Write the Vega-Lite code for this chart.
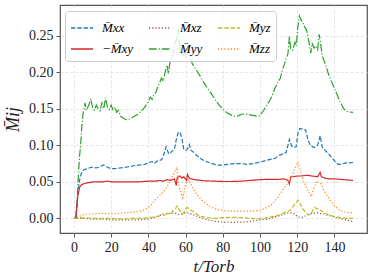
{
  "$schema": "https://vega.github.io/schema/vega-lite/v6.json",
  "width": 307,
  "height": 228,
  "autosize": {"type": "none"},
  "padding": {"left": 60, "top": 5, "right": 7, "bottom": 47},
  "background": "white",
  "config": {
    "view": {"stroke": "#555555", "strokeWidth": 1.2},
    "font": "Liberation Serif",
    "axis": {
      "labelFont": "Liberation Serif",
      "titleFont": "Liberation Serif",
      "labelColor": "#222222",
      "titleColor": "#222222",
      "domain": false,
      "tickColor": "#555555",
      "tickSize": 4,
      "tickWidth": 1,
      "grid": true,
      "gridColor": "#dedede",
      "gridDash": [3, 2],
      "gridWidth": 0.8
    }
  },
  "data": {
    "values": [
      {"s":"M\u0304yy","t":0,"v":0},{"s":"M\u0304yy","t":1,"v":0},{"s":"M\u0304yy","t":1.5,"v":0.01},{"s":"M\u0304yy","t":2.2,"v":0.05},{"s":"M\u0304yy","t":3,"v":0.085},{"s":"M\u0304yy","t":3.6,"v":0.1},{"s":"M\u0304yy","t":4.2,"v":0.125},{"s":"M\u0304yy","t":5,"v":0.145},{"s":"M\u0304yy","t":5.5,"v":0.15},{"s":"M\u0304yy","t":6,"v":0.158},{"s":"M\u0304yy","t":6.5,"v":0.148},{"s":"M\u0304yy","t":7,"v":0.15},{"s":"M\u0304yy","t":8,"v":0.155},{"s":"M\u0304yy","t":9,"v":0.164},{"s":"M\u0304yy","t":10,"v":0.152},{"s":"M\u0304yy","t":11,"v":0.148},{"s":"M\u0304yy","t":12,"v":0.155},{"s":"M\u0304yy","t":13,"v":0.15},{"s":"M\u0304yy","t":14,"v":0.147},{"s":"M\u0304yy","t":15,"v":0.158},{"s":"M\u0304yy","t":16,"v":0.15},{"s":"M\u0304yy","t":17,"v":0.165},{"s":"M\u0304yy","t":18,"v":0.152},{"s":"M\u0304yy","t":19,"v":0.149},{"s":"M\u0304yy","t":20,"v":0.155},{"s":"M\u0304yy","t":21,"v":0.148},{"s":"M\u0304yy","t":22,"v":0.152},{"s":"M\u0304yy","t":23,"v":0.145},{"s":"M\u0304yy","t":24,"v":0.148},{"s":"M\u0304yy","t":25,"v":0.14},{"s":"M\u0304yy","t":26,"v":0.138},{"s":"M\u0304yy","t":28,"v":0.135},{"s":"M\u0304yy","t":30,"v":0.136},{"s":"M\u0304yy","t":32,"v":0.139},{"s":"M\u0304yy","t":34,"v":0.142},{"s":"M\u0304yy","t":36,"v":0.146},{"s":"M\u0304yy","t":38,"v":0.152},{"s":"M\u0304yy","t":40,"v":0.16},{"s":"M\u0304yy","t":41,"v":0.166},{"s":"M\u0304yy","t":42,"v":0.163},{"s":"M\u0304yy","t":43,"v":0.17},{"s":"M\u0304yy","t":44,"v":0.172},{"s":"M\u0304yy","t":45,"v":0.18},{"s":"M\u0304yy","t":46,"v":0.185},{"s":"M\u0304yy","t":47,"v":0.192},{"s":"M\u0304yy","t":48,"v":0.188},{"s":"M\u0304yy","t":49,"v":0.2},{"s":"M\u0304yy","t":50,"v":0.21},{"s":"M\u0304yy","t":50.8,"v":0.198},{"s":"M\u0304yy","t":51.5,"v":0.212},{"s":"M\u0304yy","t":52.5,"v":0.22},{"s":"M\u0304yy","t":53.5,"v":0.228},{"s":"M\u0304yy","t":54.5,"v":0.24},{"s":"M\u0304yy","t":55.5,"v":0.25},{"s":"M\u0304yy","t":56,"v":0.259},{"s":"M\u0304yy","t":56.6,"v":0.24},{"s":"M\u0304yy","t":57.2,"v":0.226},{"s":"M\u0304yy","t":58,"v":0.235},{"s":"M\u0304yy","t":58.8,"v":0.222},{"s":"M\u0304yy","t":59.5,"v":0.23},{"s":"M\u0304yy","t":60.5,"v":0.22},{"s":"M\u0304yy","t":61.3,"v":0.232},{"s":"M\u0304yy","t":62.3,"v":0.222},{"s":"M\u0304yy","t":63,"v":0.215},{"s":"M\u0304yy","t":64,"v":0.21},{"s":"M\u0304yy","t":66,"v":0.202},{"s":"M\u0304yy","t":68,"v":0.194},{"s":"M\u0304yy","t":70,"v":0.185},{"s":"M\u0304yy","t":72,"v":0.177},{"s":"M\u0304yy","t":74,"v":0.17},{"s":"M\u0304yy","t":76,"v":0.162},{"s":"M\u0304yy","t":78,"v":0.155},{"s":"M\u0304yy","t":80,"v":0.15},{"s":"M\u0304yy","t":82,"v":0.145},{"s":"M\u0304yy","t":84,"v":0.142},{"s":"M\u0304yy","t":86,"v":0.14},{"s":"M\u0304yy","t":88,"v":0.14},{"s":"M\u0304yy","t":90,"v":0.1425},{"s":"M\u0304yy","t":92,"v":0.143},{"s":"M\u0304yy","t":94,"v":0.142},{"s":"M\u0304yy","t":96,"v":0.141},{"s":"M\u0304yy","t":98,"v":0.14},{"s":"M\u0304yy","t":100,"v":0.141},{"s":"M\u0304yy","t":102,"v":0.148},{"s":"M\u0304yy","t":104,"v":0.156},{"s":"M\u0304yy","t":106,"v":0.165},{"s":"M\u0304yy","t":108,"v":0.178},{"s":"M\u0304yy","t":110,"v":0.188},{"s":"M\u0304yy","t":111,"v":0.192},{"s":"M\u0304yy","t":112,"v":0.203},{"s":"M\u0304yy","t":113,"v":0.21},{"s":"M\u0304yy","t":114,"v":0.218},{"s":"M\u0304yy","t":115,"v":0.225},{"s":"M\u0304yy","t":115.8,"v":0.249},{"s":"M\u0304yy","t":116.5,"v":0.232},{"s":"M\u0304yy","t":117.5,"v":0.23},{"s":"M\u0304yy","t":118.8,"v":0.241},{"s":"M\u0304yy","t":119.5,"v":0.236},{"s":"M\u0304yy","t":120.3,"v":0.262},{"s":"M\u0304yy","t":121.2,"v":0.277},{"s":"M\u0304yy","t":122,"v":0.272},{"s":"M\u0304yy","t":123,"v":0.268},{"s":"M\u0304yy","t":124,"v":0.262},{"s":"M\u0304yy","t":125,"v":0.258},{"s":"M\u0304yy","t":125.7,"v":0.25},{"s":"M\u0304yy","t":126.5,"v":0.238},{"s":"M\u0304yy","t":127.3,"v":0.226},{"s":"M\u0304yy","t":128,"v":0.24},{"s":"M\u0304yy","t":129,"v":0.233},{"s":"M\u0304yy","t":130,"v":0.236},{"s":"M\u0304yy","t":131,"v":0.231},{"s":"M\u0304yy","t":131.8,"v":0.252},{"s":"M\u0304yy","t":132.5,"v":0.24},{"s":"M\u0304yy","t":133.5,"v":0.222},{"s":"M\u0304yy","t":135,"v":0.212},{"s":"M\u0304yy","t":136.5,"v":0.2},{"s":"M\u0304yy","t":138,"v":0.19},{"s":"M\u0304yy","t":140,"v":0.178},{"s":"M\u0304yy","t":141.8,"v":0.167},{"s":"M\u0304yy","t":143,"v":0.16},{"s":"M\u0304yy","t":145,"v":0.15},{"s":"M\u0304yy","t":147,"v":0.146},{"s":"M\u0304yy","t":150,"v":0.145},

      {"s":"M\u0304xx","t":0,"v":0},{"s":"M\u0304xx","t":1,"v":0},{"s":"M\u0304xx","t":2,"v":0.03},{"s":"M\u0304xx","t":3,"v":0.052},{"s":"M\u0304xx","t":4,"v":0.062},{"s":"M\u0304xx","t":5,"v":0.066},{"s":"M\u0304xx","t":6,"v":0.067},{"s":"M\u0304xx","t":8,"v":0.069},{"s":"M\u0304xx","t":10,"v":0.07},{"s":"M\u0304xx","t":12,"v":0.069},{"s":"M\u0304xx","t":14,"v":0.071},{"s":"M\u0304xx","t":16,"v":0.073},{"s":"M\u0304xx","t":18,"v":0.07},{"s":"M\u0304xx","t":20,"v":0.068},{"s":"M\u0304xx","t":22,"v":0.068},{"s":"M\u0304xx","t":25,"v":0.069},{"s":"M\u0304xx","t":28,"v":0.07},{"s":"M\u0304xx","t":30,"v":0.071},{"s":"M\u0304xx","t":32,"v":0.072},{"s":"M\u0304xx","t":35,"v":0.073},{"s":"M\u0304xx","t":38,"v":0.074},{"s":"M\u0304xx","t":40,"v":0.076},{"s":"M\u0304xx","t":42,"v":0.078},{"s":"M\u0304xx","t":43,"v":0.075},{"s":"M\u0304xx","t":45,"v":0.079},{"s":"M\u0304xx","t":47,"v":0.08},{"s":"M\u0304xx","t":48,"v":0.085},{"s":"M\u0304xx","t":49.5,"v":0.098},{"s":"M\u0304xx","t":51,"v":0.088},{"s":"M\u0304xx","t":52,"v":0.09},{"s":"M\u0304xx","t":54,"v":0.095},{"s":"M\u0304xx","t":55,"v":0.108},{"s":"M\u0304xx","t":56,"v":0.117},{"s":"M\u0304xx","t":57,"v":0.118},{"s":"M\u0304xx","t":58,"v":0.11},{"s":"M\u0304xx","t":59,"v":0.095},{"s":"M\u0304xx","t":60,"v":0.093},{"s":"M\u0304xx","t":61,"v":0.095},{"s":"M\u0304xx","t":62,"v":0.101},{"s":"M\u0304xx","t":63,"v":0.093},{"s":"M\u0304xx","t":64.5,"v":0.09},{"s":"M\u0304xx","t":66,"v":0.086},{"s":"M\u0304xx","t":68,"v":0.082},{"s":"M\u0304xx","t":70,"v":0.079},{"s":"M\u0304xx","t":73,"v":0.076},{"s":"M\u0304xx","t":77,"v":0.073},{"s":"M\u0304xx","t":80,"v":0.073},{"s":"M\u0304xx","t":83,"v":0.074},{"s":"M\u0304xx","t":86,"v":0.075},{"s":"M\u0304xx","t":90,"v":0.075},{"s":"M\u0304xx","t":93,"v":0.074},{"s":"M\u0304xx","t":96,"v":0.075},{"s":"M\u0304xx","t":100,"v":0.077},{"s":"M\u0304xx","t":103,"v":0.079},{"s":"M\u0304xx","t":106,"v":0.081},{"s":"M\u0304xx","t":108,"v":0.082},{"s":"M\u0304xx","t":110,"v":0.086},{"s":"M\u0304xx","t":112,"v":0.088},{"s":"M\u0304xx","t":114,"v":0.09},{"s":"M\u0304xx","t":115,"v":0.1},{"s":"M\u0304xx","t":115.8,"v":0.108},{"s":"M\u0304xx","t":117,"v":0.099},{"s":"M\u0304xx","t":118,"v":0.097},{"s":"M\u0304xx","t":119.4,"v":0.098},{"s":"M\u0304xx","t":120.5,"v":0.118},{"s":"M\u0304xx","t":121.5,"v":0.123},{"s":"M\u0304xx","t":123,"v":0.122},{"s":"M\u0304xx","t":124.5,"v":0.121},{"s":"M\u0304xx","t":125.7,"v":0.108},{"s":"M\u0304xx","t":127,"v":0.1},{"s":"M\u0304xx","t":129,"v":0.097},{"s":"M\u0304xx","t":131,"v":0.1},{"s":"M\u0304xx","t":132.3,"v":0.113},{"s":"M\u0304xx","t":133.5,"v":0.097},{"s":"M\u0304xx","t":135,"v":0.093},{"s":"M\u0304xx","t":137,"v":0.088},{"s":"M\u0304xx","t":139,"v":0.082},{"s":"M\u0304xx","t":141,"v":0.076},{"s":"M\u0304xx","t":142,"v":0.074},{"s":"M\u0304xx","t":144,"v":0.074},{"s":"M\u0304xx","t":146,"v":0.076},{"s":"M\u0304xx","t":148,"v":0.076},{"s":"M\u0304xx","t":150,"v":0.0765},

      {"s":"\u2212M\u0304xy","t":0,"v":0},{"s":"\u2212M\u0304xy","t":1,"v":0.001},{"s":"\u2212M\u0304xy","t":2,"v":0.03},{"s":"\u2212M\u0304xy","t":3,"v":0.042},{"s":"\u2212M\u0304xy","t":4,"v":0.046},{"s":"\u2212M\u0304xy","t":6,"v":0.048},{"s":"\u2212M\u0304xy","t":8,"v":0.049},{"s":"\u2212M\u0304xy","t":10,"v":0.05},{"s":"\u2212M\u0304xy","t":15,"v":0.05},{"s":"\u2212M\u0304xy","t":18,"v":0.051},{"s":"\u2212M\u0304xy","t":20,"v":0.05},{"s":"\u2212M\u0304xy","t":25,"v":0.05},{"s":"\u2212M\u0304xy","t":30,"v":0.05},{"s":"\u2212M\u0304xy","t":35,"v":0.05},{"s":"\u2212M\u0304xy","t":40,"v":0.051},{"s":"\u2212M\u0304xy","t":44,"v":0.051},{"s":"\u2212M\u0304xy","t":46,"v":0.052},{"s":"\u2212M\u0304xy","t":48,"v":0.051},{"s":"\u2212M\u0304xy","t":50,"v":0.053},{"s":"\u2212M\u0304xy","t":52,"v":0.052},{"s":"\u2212M\u0304xy","t":54,"v":0.054},{"s":"\u2212M\u0304xy","t":55,"v":0.045},{"s":"\u2212M\u0304xy","t":55.5,"v":0.056},{"s":"\u2212M\u0304xy","t":57,"v":0.058},{"s":"\u2212M\u0304xy","t":58,"v":0.055},{"s":"\u2212M\u0304xy","t":59,"v":0.057},{"s":"\u2212M\u0304xy","t":60.5,"v":0.052},{"s":"\u2212M\u0304xy","t":61,"v":0.06},{"s":"\u2212M\u0304xy","t":62,"v":0.055},{"s":"\u2212M\u0304xy","t":63,"v":0.054},{"s":"\u2212M\u0304xy","t":65,"v":0.053},{"s":"\u2212M\u0304xy","t":68,"v":0.052},{"s":"\u2212M\u0304xy","t":70,"v":0.0515},{"s":"\u2212M\u0304xy","t":75,"v":0.051},{"s":"\u2212M\u0304xy","t":80,"v":0.0505},{"s":"\u2212M\u0304xy","t":85,"v":0.0505},{"s":"\u2212M\u0304xy","t":90,"v":0.051},{"s":"\u2212M\u0304xy","t":95,"v":0.052},{"s":"\u2212M\u0304xy","t":100,"v":0.053},{"s":"\u2212M\u0304xy","t":105,"v":0.0535},{"s":"\u2212M\u0304xy","t":110,"v":0.0535},{"s":"\u2212M\u0304xy","t":113,"v":0.054},{"s":"\u2212M\u0304xy","t":115,"v":0.052},{"s":"\u2212M\u0304xy","t":115.8,"v":0.047},{"s":"\u2212M\u0304xy","t":116.5,"v":0.057},{"s":"\u2212M\u0304xy","t":118,"v":0.057},{"s":"\u2212M\u0304xy","t":120,"v":0.058},{"s":"\u2212M\u0304xy","t":122,"v":0.058},{"s":"\u2212M\u0304xy","t":125,"v":0.059},{"s":"\u2212M\u0304xy","t":128,"v":0.058},{"s":"\u2212M\u0304xy","t":131,"v":0.057},{"s":"\u2212M\u0304xy","t":132.3,"v":0.063},{"s":"\u2212M\u0304xy","t":133,"v":0.057},{"s":"\u2212M\u0304xy","t":135,"v":0.055},{"s":"\u2212M\u0304xy","t":137,"v":0.054},{"s":"\u2212M\u0304xy","t":140,"v":0.054},{"s":"\u2212M\u0304xy","t":145,"v":0.053},{"s":"\u2212M\u0304xy","t":150,"v":0.052},

      {"s":"M\u0304zz","t":0,"v":0},{"s":"M\u0304zz","t":1,"v":0},{"s":"M\u0304zz","t":2,"v":0.002},{"s":"M\u0304zz","t":3,"v":0.003},{"s":"M\u0304zz","t":4,"v":0.004},{"s":"M\u0304zz","t":6,"v":0.006},{"s":"M\u0304zz","t":10,"v":0.006},{"s":"M\u0304zz","t":15,"v":0.007},{"s":"M\u0304zz","t":20,"v":0.006},{"s":"M\u0304zz","t":25,"v":0.007},{"s":"M\u0304zz","t":30,"v":0.008},{"s":"M\u0304zz","t":33,"v":0.009},{"s":"M\u0304zz","t":36,"v":0.01},{"s":"M\u0304zz","t":38,"v":0.012},{"s":"M\u0304zz","t":40,"v":0.015},{"s":"M\u0304zz","t":42,"v":0.02},{"s":"M\u0304zz","t":44,"v":0.026},{"s":"M\u0304zz","t":46,"v":0.031},{"s":"M\u0304zz","t":48,"v":0.036},{"s":"M\u0304zz","t":50,"v":0.043},{"s":"M\u0304zz","t":52,"v":0.053},{"s":"M\u0304zz","t":53.5,"v":0.06},{"s":"M\u0304zz","t":54.5,"v":0.066},{"s":"M\u0304zz","t":55.2,"v":0.07},{"s":"M\u0304zz","t":55.8,"v":0.06},{"s":"M\u0304zz","t":56.5,"v":0.045},{"s":"M\u0304zz","t":57.5,"v":0.035},{"s":"M\u0304zz","t":58.5,"v":0.028},{"s":"M\u0304zz","t":59.5,"v":0.04},{"s":"M\u0304zz","t":60.5,"v":0.05},{"s":"M\u0304zz","t":61.5,"v":0.053},{"s":"M\u0304zz","t":62.5,"v":0.049},{"s":"M\u0304zz","t":64,"v":0.041},{"s":"M\u0304zz","t":66,"v":0.033},{"s":"M\u0304zz","t":68,"v":0.027},{"s":"M\u0304zz","t":70,"v":0.022},{"s":"M\u0304zz","t":72,"v":0.018},{"s":"M\u0304zz","t":75,"v":0.014},{"s":"M\u0304zz","t":78,"v":0.012},{"s":"M\u0304zz","t":82,"v":0.01},{"s":"M\u0304zz","t":86,"v":0.01},{"s":"M\u0304zz","t":90,"v":0.01},{"s":"M\u0304zz","t":95,"v":0.01},{"s":"M\u0304zz","t":100,"v":0.011},{"s":"M\u0304zz","t":103,"v":0.014},{"s":"M\u0304zz","t":106,"v":0.018},{"s":"M\u0304zz","t":108,"v":0.024},{"s":"M\u0304zz","t":110,"v":0.03},{"s":"M\u0304zz","t":112,"v":0.038},{"s":"M\u0304zz","t":114,"v":0.045},{"s":"M\u0304zz","t":116,"v":0.052},{"s":"M\u0304zz","t":117.5,"v":0.06},{"s":"M\u0304zz","t":118.5,"v":0.067},{"s":"M\u0304zz","t":119.5,"v":0.072},{"s":"M\u0304zz","t":120.3,"v":0.077},{"s":"M\u0304zz","t":121.2,"v":0.07},{"s":"M\u0304zz","t":122,"v":0.062},{"s":"M\u0304zz","t":123,"v":0.054},{"s":"M\u0304zz","t":124.5,"v":0.045},{"s":"M\u0304zz","t":126,"v":0.037},{"s":"M\u0304zz","t":127.5,"v":0.03},{"s":"M\u0304zz","t":128.5,"v":0.038},{"s":"M\u0304zz","t":129.5,"v":0.045},{"s":"M\u0304zz","t":130.2,"v":0.051},{"s":"M\u0304zz","t":131.5,"v":0.049},{"s":"M\u0304zz","t":132.8,"v":0.047},{"s":"M\u0304zz","t":134,"v":0.04},{"s":"M\u0304zz","t":135.5,"v":0.033},{"s":"M\u0304zz","t":137.4,"v":0.026},{"s":"M\u0304zz","t":139.5,"v":0.019},{"s":"M\u0304zz","t":141.8,"v":0.013},{"s":"M\u0304zz","t":144,"v":0.01},{"s":"M\u0304zz","t":147,"v":0.008},{"s":"M\u0304zz","t":150,"v":0.008},

      {"s":"M\u0304xz","t":0,"v":0},{"s":"M\u0304xz","t":5,"v":0},{"s":"M\u0304xz","t":10,"v":-0.001},{"s":"M\u0304xz","t":15,"v":-0.001},{"s":"M\u0304xz","t":20,"v":-0.002},{"s":"M\u0304xz","t":25,"v":-0.002},{"s":"M\u0304xz","t":30,"v":-0.002},{"s":"M\u0304xz","t":35,"v":-0.002},{"s":"M\u0304xz","t":40,"v":-0.001},{"s":"M\u0304xz","t":43,"v":0.001},{"s":"M\u0304xz","t":46,"v":0.004},{"s":"M\u0304xz","t":49,"v":0.006},{"s":"M\u0304xz","t":52,"v":0.007},{"s":"M\u0304xz","t":54,"v":0.008},{"s":"M\u0304xz","t":56,"v":0.005},{"s":"M\u0304xz","t":58,"v":0.006},{"s":"M\u0304xz","t":60,"v":0.008},{"s":"M\u0304xz","t":62,"v":0.007},{"s":"M\u0304xz","t":65,"v":0.004},{"s":"M\u0304xz","t":68,"v":0.001},{"s":"M\u0304xz","t":72,"v":-0.002},{"s":"M\u0304xz","t":76,"v":-0.004},{"s":"M\u0304xz","t":80,"v":-0.005},{"s":"M\u0304xz","t":85,"v":-0.0055},{"s":"M\u0304xz","t":90,"v":-0.005},{"s":"M\u0304xz","t":95,"v":-0.004},{"s":"M\u0304xz","t":100,"v":-0.002},{"s":"M\u0304xz","t":104,"v":-0.001},{"s":"M\u0304xz","t":108,"v":0.002},{"s":"M\u0304xz","t":112,"v":0.005},{"s":"M\u0304xz","t":116,"v":0.008},{"s":"M\u0304xz","t":118,"v":0.007},{"s":"M\u0304xz","t":120,"v":0.003},{"s":"M\u0304xz","t":122,"v":0.001},{"s":"M\u0304xz","t":125,"v":0.004},{"s":"M\u0304xz","t":128,"v":0.007},{"s":"M\u0304xz","t":131,"v":0.0075},{"s":"M\u0304xz","t":134,"v":0.006},{"s":"M\u0304xz","t":137,"v":0.004},{"s":"M\u0304xz","t":140,"v":0.002},{"s":"M\u0304xz","t":143,"v":0},{"s":"M\u0304xz","t":146,"v":-0.002},{"s":"M\u0304xz","t":150,"v":-0.0045},

      {"s":"M\u0304yz","t":0,"v":0},{"s":"M\u0304yz","t":5,"v":0.001},{"s":"M\u0304yz","t":10,"v":0},{"s":"M\u0304yz","t":15,"v":0},{"s":"M\u0304yz","t":20,"v":0},{"s":"M\u0304yz","t":25,"v":-0.001},{"s":"M\u0304yz","t":30,"v":0},{"s":"M\u0304yz","t":35,"v":0},{"s":"M\u0304yz","t":40,"v":0.001},{"s":"M\u0304yz","t":43,"v":0.002},{"s":"M\u0304yz","t":46,"v":0.003},{"s":"M\u0304yz","t":48,"v":0.006},{"s":"M\u0304yz","t":49,"v":0.003},{"s":"M\u0304yz","t":50,"v":0.007},{"s":"M\u0304yz","t":52,"v":0.006},{"s":"M\u0304yz","t":53,"v":0.01},{"s":"M\u0304yz","t":54.5,"v":0.013},{"s":"M\u0304yz","t":55.5,"v":0.017},{"s":"M\u0304yz","t":56.5,"v":0.012},{"s":"M\u0304yz","t":57.5,"v":0.009},{"s":"M\u0304yz","t":58.4,"v":0.006},{"s":"M\u0304yz","t":59,"v":0.008},{"s":"M\u0304yz","t":60,"v":0.012},{"s":"M\u0304yz","t":60.8,"v":0.015},{"s":"M\u0304yz","t":62,"v":0.013},{"s":"M\u0304yz","t":63.5,"v":0.01},{"s":"M\u0304yz","t":65,"v":0.008},{"s":"M\u0304yz","t":66.5,"v":0.005},{"s":"M\u0304yz","t":68,"v":0.003},{"s":"M\u0304yz","t":72,"v":0.001},{"s":"M\u0304yz","t":76,"v":0},{"s":"M\u0304yz","t":80,"v":0.001},{"s":"M\u0304yz","t":85,"v":0.0015},{"s":"M\u0304yz","t":90,"v":0.001},{"s":"M\u0304yz","t":95,"v":0},{"s":"M\u0304yz","t":100,"v":-0.0005},{"s":"M\u0304yz","t":104,"v":0.001},{"s":"M\u0304yz","t":108,"v":0.003},{"s":"M\u0304yz","t":111,"v":0.005},{"s":"M\u0304yz","t":113,"v":0.008},{"s":"M\u0304yz","t":115,"v":0.009},{"s":"M\u0304yz","t":116.5,"v":0.012},{"s":"M\u0304yz","t":118,"v":0.017},{"s":"M\u0304yz","t":119.5,"v":0.022},{"s":"M\u0304yz","t":120.5,"v":0.025},{"s":"M\u0304yz","t":121.5,"v":0.02},{"s":"M\u0304yz","t":123,"v":0.013},{"s":"M\u0304yz","t":124.5,"v":0.008},{"s":"M\u0304yz","t":126,"v":0.005},{"s":"M\u0304yz","t":127.5,"v":0.006},{"s":"M\u0304yz","t":128.5,"v":0.012},{"s":"M\u0304yz","t":129.5,"v":0.015},{"s":"M\u0304yz","t":130.5,"v":0.013},{"s":"M\u0304yz","t":131.5,"v":0.014},{"s":"M\u0304yz","t":133,"v":0.01},{"s":"M\u0304yz","t":135,"v":0.007},{"s":"M\u0304yz","t":138,"v":0.004},{"s":"M\u0304yz","t":141,"v":0.002},{"s":"M\u0304yz","t":144,"v":0.001},{"s":"M\u0304yz","t":147,"v":0},{"s":"M\u0304yz","t":150,"v":0}
    ]
  },
  "mark": {"type": "line", "strokeWidth": 1.2, "clip": true},
  "encoding": {
    "x": {
      "field": "t", "type": "quantitative",
      "scale": {"domain": [-7.5, 157.5], "nice": false, "zero": false},
      "axis": {"values": [0, 20, 40, 60, 80, 100, 120, 140], "labelFontSize": 14, "labelPadding": 3, "title": "t/Torb", "titleFontSize": 17, "titleFontStyle": "italic", "titleFontWeight": "normal", "titlePadding": 4}
    },
    "y": {
      "field": "v", "type": "quantitative",
      "scale": {"domain": [-0.02, 0.292], "nice": false, "zero": false},
      "axis": {"values": [0, 0.05, 0.1, 0.15, 0.2, 0.25], "format": ".2f", "labelFontSize": 14, "labelPadding": 3, "title": "M\u0304ij", "titleFontSize": 18, "titleFontStyle": "italic", "titleFontWeight": "normal", "titlePadding": 6}
    },
    "color": {
      "field": "s", "type": "nominal",
      "scale": {
        "domain": ["M\u0304xx", "\u2212M\u0304xy", "M\u0304xz", "M\u0304yy", "M\u0304yz", "M\u0304zz"],
        "range": ["#1f77b4", "#d62728", "#8c564b", "#2ca02c", "#bcbd22", "#ff7f0e"]
      },
      "legend": {
        "orient": "none", "legendX": 5, "legendY": 6, "columns": 3, "title": null,
        "symbolType": "stroke", "symbolSize": 484, "symbolStrokeWidth": 1.3,
        "labelFont": "Liberation Serif", "labelFontSize": 13, "labelFontStyle": "italic", "labelOffset": 8,
        "columnPadding": 12, "rowPadding": 2,
        "fillColor": "rgba(255,255,255,0.8)", "strokeColor": "#cccccc", "cornerRadius": 3, "padding": 5
      }
    },
    "strokeDash": {
      "field": "s", "type": "nominal",
      "scale": {
        "domain": ["M\u0304xx", "\u2212M\u0304xy", "M\u0304xz", "M\u0304yy", "M\u0304yz", "M\u0304zz"],
        "range": [[4.4, 1.9], [1, 0], [1.2, 2], [7.7, 1.9, 1.2, 1.9], [4.4, 1.9], [1.2, 2]]
      },
      "legend": {
        "orient": "none", "legendX": 5, "legendY": 6, "columns": 3, "title": null,
        "symbolType": "stroke", "symbolSize": 484, "symbolStrokeWidth": 1.3,
        "labelFont": "Liberation Serif", "labelFontSize": 13, "labelFontStyle": "italic", "labelOffset": 8,
        "columnPadding": 12, "rowPadding": 2,
        "fillColor": "rgba(255,255,255,0.8)", "strokeColor": "#cccccc", "cornerRadius": 3, "padding": 5
      }
    }
  }
}
